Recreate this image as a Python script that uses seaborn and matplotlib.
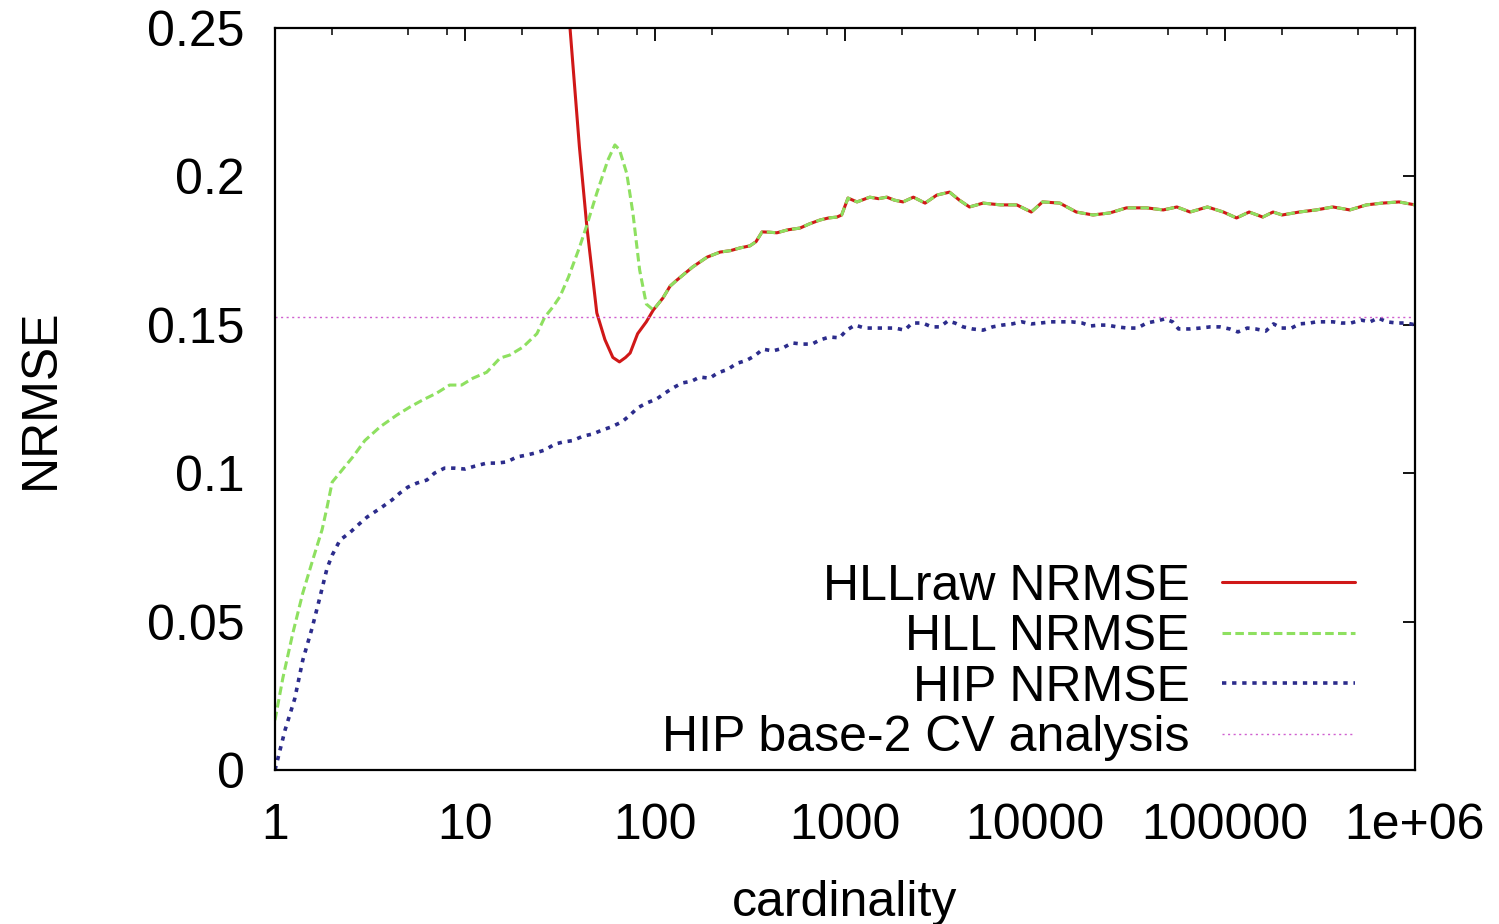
import matplotlib
matplotlib.use("Agg")
from matplotlib import pyplot as plt
from matplotlib.ticker import LogLocator, NullFormatter
import seaborn as sns

# shared tail where HLLraw and HLL coincide
MERGED_X = [98, 110, 120, 130, 158, 188, 220, 250, 280, 316,
            340, 366, 400, 438, 500, 580, 650, 738, 820, 907,
            960, 1037, 1157, 1350, 1500, 1660, 1820, 2020, 2290, 2640,
            3040, 3550, 4000, 4520, 5330, 6600, 8020, 9560, 10960, 13500,
            16500, 20200, 24800, 30300, 38700, 47300, 55800, 65500, 80800, 98000,
            115000, 134000, 158000, 179000, 200000, 246000, 302000, 370000, 454000, 555000,
            672000, 824000, 1000000]
MERGED_Y = [0.155, 0.159, 0.163, 0.165, 0.1695, 0.1728, 0.1745, 0.175, 0.1759, 0.1766,
            0.178, 0.1813, 0.1812, 0.181, 0.182, 0.1826, 0.184, 0.1853, 0.186, 0.1863,
            0.187, 0.1927, 0.1914, 0.193, 0.1925, 0.193, 0.192, 0.1914, 0.193, 0.191,
            0.1937, 0.1947, 0.192, 0.1897, 0.191, 0.1904, 0.1904, 0.188, 0.1914, 0.191,
            0.188, 0.187, 0.1877, 0.1894, 0.1894, 0.1887, 0.1897, 0.188, 0.1897, 0.188,
            0.186, 0.188, 0.1863, 0.188, 0.187, 0.188, 0.1887, 0.1897, 0.1887, 0.1904,
            0.191, 0.1914, 0.1904]

HLLRAW_X = [30, 33, 35.7, 40, 43.8, 49.4, 54.5, 60, 65, 70, 74, 81, 90] + MERGED_X
HLLRAW_Y = [0.32, 0.28, 0.25, 0.21, 0.183, 0.154, 0.145, 0.139, 0.1375, 0.139,
            0.1405, 0.147, 0.151] + MERGED_Y

HLL_X = [1, 1.1, 1.24, 1.4, 1.58, 1.77, 1.88, 2.0, 2.25, 2.57,
         2.97, 3.57, 4.38, 5.13, 6.0, 7.1, 8.3, 9.6, 11, 13,
         15.3, 17.2, 20.2, 23.9, 26.3, 29, 31.6, 35, 40, 44,
         49.4, 56.5, 61.5, 65, 71, 76.5, 83, 90] + MERGED_X
HLL_Y = [0.0168, 0.031, 0.046, 0.0596, 0.0708, 0.081, 0.0886, 0.097, 0.101, 0.1055,
         0.111, 0.1156, 0.1196, 0.1223, 0.1247, 0.127, 0.1297, 0.1297, 0.132, 0.134,
         0.1388, 0.1398, 0.1425, 0.147, 0.1526, 0.156, 0.1595, 0.166, 0.176, 0.184,
         0.1944, 0.2055, 0.2106, 0.209, 0.201, 0.1877, 0.1685, 0.157] + MERGED_Y

HIP_X = [1, 1.13, 1.27, 1.4, 1.57, 1.72, 1.88, 2.0, 2.2, 2.48,
         2.73, 3.05, 3.66, 4.13, 4.54, 5.0, 5.6, 6.3, 6.9, 7.8,
         8.8, 10, 11.3, 13, 14.7, 16.6, 18.8, 20.7, 23.4, 26.3,
         29.7, 32.8, 37, 41.8, 47, 53, 59, 67, 74, 81,
         90, 102, 113, 124, 139, 156, 172, 194, 214, 242,
         269, 303, 334, 370, 417, 465, 526, 593, 670, 738,
         830, 935, 1020, 1130, 1270, 1430, 1620, 1830, 2060, 2260,
         2560, 2860, 3160, 3480, 3790, 4190, 4690, 5330, 5980, 6720,
         7580, 8520, 9560, 10700, 12100, 13700, 15600, 17700, 19600, 21700,
         24000, 27000, 30600, 34600, 38700, 43800, 48300, 53000, 57000, 65500,
         74000, 83500, 94000, 106000, 117000, 131000, 145000, 164000, 180000, 198000,
         224000, 246000, 280000, 302000, 340000, 370000, 410000, 460000, 520000, 580000,
         640000, 710000, 800000, 900000, 1000000]
HIP_Y = [0.0, 0.0135, 0.024, 0.037, 0.048, 0.058, 0.068, 0.0724, 0.0775, 0.080,
         0.0825, 0.0852, 0.0886, 0.091, 0.0933, 0.0953, 0.0967, 0.0977, 0.100, 0.1017,
         0.1017, 0.1014, 0.1024, 0.1034, 0.1034, 0.1038, 0.1055, 0.106, 0.1068, 0.1078,
         0.1098, 0.1105, 0.111, 0.1125, 0.1132, 0.1146, 0.1156, 0.1173, 0.1196, 0.122,
         0.1236, 0.125, 0.127, 0.1287, 0.1304, 0.131, 0.1324, 0.132, 0.1338, 0.135,
         0.137, 0.138, 0.1395, 0.1418, 0.1412, 0.142, 0.1439, 0.1435, 0.1435, 0.1449,
         0.1459, 0.1456, 0.1482, 0.1499, 0.1489, 0.1489, 0.1489, 0.1489, 0.1482, 0.1506,
         0.1506, 0.1493, 0.1493, 0.1513, 0.1506, 0.1493, 0.1486, 0.1482, 0.1493, 0.1499,
         0.1503, 0.151, 0.1503, 0.1506, 0.151, 0.151, 0.151, 0.1506, 0.1496, 0.1499,
         0.1499, 0.1493, 0.1489, 0.1489, 0.1506, 0.1513, 0.152, 0.151, 0.1486, 0.1486,
         0.1489, 0.1493, 0.1493, 0.1486, 0.1476, 0.1489, 0.1486, 0.1479, 0.1503, 0.1489,
         0.1489, 0.1503, 0.1506, 0.151, 0.151, 0.151, 0.1506, 0.1506, 0.1516, 0.151,
         0.1523, 0.151, 0.1506, 0.1506, 0.150]

CV_X = [1, 1000000]
CV_Y = [0.1527, 0.1527]

X_TICKS = [1, 10, 100, 1000, 10000, 100000, 1000000]
X_LABELS = ["1", "10", "100", "1000", "10000", "100000", "1e+06"]
Y_TICKS = [0, 0.05, 0.1, 0.15, 0.2, 0.25]
Y_LABELS = ["0", "0.05", "0.1", "0.15", "0.2", "0.25"]

sns.set_style("white")
plt.rcParams["font.family"] = ["Liberation Sans", "DejaVu Sans"]
plt.rcParams["font.size"] = 36
plt.rcParams["text.color"] = "black"
plt.rcParams["axes.labelcolor"] = "black"
plt.rcParams["xtick.color"] = "black"
plt.rcParams["ytick.color"] = "black"

fig = plt.figure(figsize=(14.99, 9.24), dpi=100)
ax = fig.add_axes([275 / 1499, 1 - 770 / 924, 1140 / 1499, 742 / 924])

sns.lineplot(x=HLLRAW_X, y=HLLRAW_Y, ax=ax, color="#d01818", linewidth=2.2,
             label="HLLraw NRMSE", estimator=None, sort=False)
sns.lineplot(x=HLL_X, y=HLL_Y, ax=ax, color="#8ee060", linewidth=2.2,
             linestyle=(0, (2.8, 1.4)), label="HLL NRMSE", estimator=None, sort=False)
sns.lineplot(x=HIP_X, y=HIP_Y, ax=ax, color="#2c2c8c", linewidth=2.6,
             linestyle=(0, (1.2, 1.6)), dash_capstyle="butt",
             label="HIP NRMSE", estimator=None, sort=False)
sns.lineplot(x=CV_X, y=CV_Y, ax=ax, color="#d060d0", linewidth=1.0,
             linestyle=(0, (1.5, 2.5)), label="HIP base-2 CV analysis",
             estimator=None, sort=False)

ax.set_xscale("log")
ax.set_xlim(1, 1e6)
ax.set_ylim(0, 0.25)
ax.set_xticks(X_TICKS)
ax.set_xticklabels(X_LABELS)
ax.xaxis.set_minor_locator(LogLocator(base=10, subs=[2, 5, 8], numticks=20))
ax.xaxis.set_minor_formatter(NullFormatter())
ax.set_yticks(Y_TICKS)
ax.set_yticklabels(Y_LABELS)

ax.tick_params(which="both", direction="in", top=True, right=True, color="black")
ax.tick_params(which="major", length=9, width=1.3)
ax.tick_params(which="minor", length=5, width=1.1)
ax.tick_params(axis="x", which="major", pad=24, labelsize=36)
ax.tick_params(axis="y", which="major", pad=22, labelsize=36)
for sp in ax.spines.values():
    sp.set_visible(True)
    sp.set_linewidth(1.6)
    sp.set_color("black")

ax.set_xlabel("cardinality", fontsize=36, labelpad=22)
ax.set_ylabel("NRMSE", fontsize=36, labelpad=60)

leg = ax.legend(loc="lower right", bbox_to_anchor=(0.947, 0.012), frameon=False,
                markerfirst=False, handlelength=2.66, handletextpad=0.64,
                labelspacing=0.09, borderpad=0, borderaxespad=0, fontsize=36)

fig.savefig("out.png", dpi=100, facecolor="white")
